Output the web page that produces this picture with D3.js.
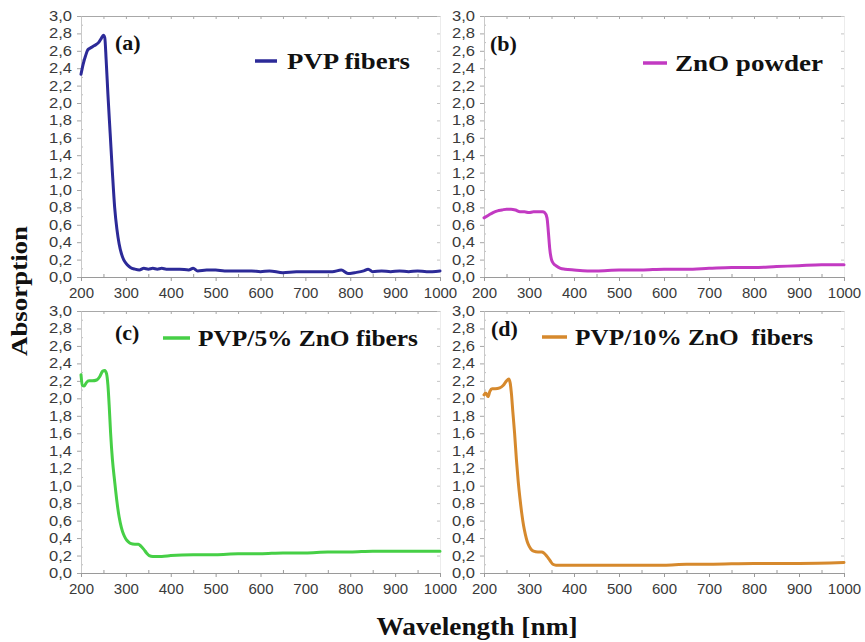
<!DOCTYPE html>
<html>
<head>
<meta charset="utf-8">
<script src="https://cdn.jsdelivr.net/npm/d3@7"></script>
<style>
  html, body { margin: 0; padding: 0; background: #fff; }
  svg { display: block; }
</style>
</head>
<body>
<svg id="chart" width="865" height="642"></svg>
<script>
// Shared axes
const wavelengthTicks = [200, 300, 400, 500, 600, 700, 800, 900, 1000];
const absorptionTicks = [0, 0.2, 0.4, 0.6, 0.8, 1.0, 1.2, 1.4, 1.6, 1.8, 2.0, 2.2, 2.4, 2.6, 2.8, 3.0];

// (a) PVP fibers
const pvpWavelength = [200, 205, 210, 215, 220, 230, 240, 245, 250, 253, 256, 260, 265, 270, 275, 280, 285, 290, 295, 300, 305, 310, 320, 330, 340, 350, 360, 370, 380, 390, 400, 420, 440, 450, 460, 480, 500, 520, 550, 580, 600, 620, 650, 680, 700, 730, 760, 780, 795, 810, 830, 840, 850, 870, 890, 910, 930, 950, 970, 1000];
const pvpAbsorption = [2.33, 2.45, 2.54, 2.61, 2.63, 2.66, 2.70, 2.74, 2.78, 2.75, 2.50, 2.10, 1.65, 1.20, 0.80, 0.55, 0.38, 0.27, 0.20, 0.16, 0.13, 0.11, 0.09, 0.08, 0.10, 0.09, 0.10, 0.09, 0.10, 0.09, 0.09, 0.09, 0.08, 0.10, 0.07, 0.08, 0.08, 0.07, 0.07, 0.07, 0.06, 0.07, 0.05, 0.06, 0.06, 0.06, 0.06, 0.08, 0.04, 0.05, 0.07, 0.09, 0.06, 0.07, 0.06, 0.07, 0.06, 0.07, 0.06, 0.07];

// (b) ZnO powder
const znoWavelength = [200, 210, 220, 230, 240, 250, 260, 270, 280, 290, 300, 310, 320, 330, 335, 340, 343, 346, 350, 355, 360, 370, 380, 400, 430, 450, 500, 550, 600, 650, 700, 750, 800, 850, 900, 950, 1000];
const znoAbsorption = [0.68, 0.71, 0.74, 0.76, 0.77, 0.78, 0.78, 0.77, 0.75, 0.75, 0.74, 0.75, 0.75, 0.75, 0.74, 0.68, 0.52, 0.33, 0.20, 0.15, 0.13, 0.10, 0.09, 0.08, 0.07, 0.07, 0.08, 0.08, 0.09, 0.09, 0.10, 0.11, 0.11, 0.12, 0.13, 0.14, 0.14];

// (c) PVP/5% ZnO fibers
const zno5Wavelength = [200, 203, 207, 212, 218, 225, 235, 242, 248, 253, 257, 260, 263, 266, 270, 275, 280, 285, 290, 295, 300, 305, 310, 320, 328, 333, 340, 346, 352, 360, 380, 400, 450, 500, 550, 600, 650, 700, 750, 800, 850, 900, 950, 1000];
const zno5Absorption = [2.27, 2.15, 2.14, 2.18, 2.20, 2.20, 2.21, 2.25, 2.31, 2.32, 2.28, 2.15, 1.90, 1.60, 1.30, 1.05, 0.82, 0.64, 0.52, 0.44, 0.39, 0.36, 0.34, 0.33, 0.33, 0.31, 0.27, 0.23, 0.20, 0.19, 0.19, 0.20, 0.21, 0.21, 0.22, 0.22, 0.23, 0.23, 0.24, 0.24, 0.25, 0.25, 0.25, 0.25];

// (d) PVP/10% ZnO fibers
const zno10Wavelength = [200, 204, 209, 213, 218, 225, 235, 243, 250, 255, 258, 261, 264, 268, 272, 276, 280, 284, 288, 292, 296, 300, 305, 310, 320, 328, 333, 340, 347, 353, 360, 400, 500, 600, 650, 700, 800, 900, 1000];
const zno10Absorption = [2.04, 2.06, 2.02, 2.08, 2.11, 2.11, 2.12, 2.15, 2.20, 2.22, 2.18, 2.05, 1.85, 1.60, 1.30, 1.05, 0.85, 0.68, 0.54, 0.44, 0.36, 0.31, 0.27, 0.25, 0.24, 0.24, 0.23, 0.19, 0.14, 0.10, 0.09, 0.09, 0.09, 0.09, 0.10, 0.10, 0.11, 0.11, 0.12];

const panels = [
  { tag: "(a)", name: "PVP fibers", wl: pvpWavelength, ab: pvpAbsorption, color: "#2c2a98",
    box: { left: 81, right: 440, top: 16, bottom: 277 },
    tagPos: [115, 50], keyLine: [255, 277, 61], keyText: [287, 69, 123] },
  { tag: "(b)", name: "ZnO powder", wl: znoWavelength, ab: znoAbsorption, color: "#c23ac2",
    box: { left: 484, right: 844, top: 16, bottom: 277 },
    tagPos: [490, 51], keyLine: [643, 667, 63], keyText: [675, 71, 148] },
  { tag: "(c)", name: "PVP/5% ZnO fibers", wl: zno5Wavelength, ab: zno5Absorption, color: "#46cf46",
    box: { left: 81, right: 440, top: 311, bottom: 573 },
    tagPos: [115, 340], keyLine: [163, 190, 338], keyText: [198, 346, 220] },
  { tag: "(d)", name: "PVP/10% ZnO  fibers", wl: zno10Wavelength, ab: zno10Absorption, color: "#d6892d",
    box: { left: 484, right: 844, top: 311, bottom: 573 },
    tagPos: [491, 336], keyLine: [542, 567, 337], keyText: [575, 345, 238] }
];

const svg = d3.select("#chart");
const fmtY = v => d3.format(".1f")(v).replace(".", ",");
const serif = "'Liberation Serif', 'Times New Roman', serif";
const sans = "'Liberation Sans', Arial, sans-serif";

panels.forEach(p => {
  const b = p.box;
  const x = d3.scaleLinear().domain([200, 1000]).range([b.left, b.right]);
  const y = d3.scaleLinear().domain([0, 3]).range([b.bottom, b.top]);
  const g = svg.append("g");

  // minor ticks (inward) on the bottom and top frame
  const minorX = d3.range(250, 1000, 100);
  g.append("g").attr("transform", `translate(0,${b.bottom})`)
    .call(d3.axisTop(x).tickValues(minorX).tickSize(3).tickFormat(""))
    .call(s => s.select(".domain").remove())
    .selectAll("line").attr("stroke", "#9a9a9a");
  g.append("g").attr("transform", `translate(0,${b.top})`)
    .call(d3.axisBottom(x).tickValues(wavelengthTicks.concat(minorX)).tickSize(3).tickFormat(""))
    .call(s => s.select(".domain").attr("stroke", "#a8a8a8"))
    .selectAll("line").attr("stroke", "#a8a8a8");

  // right frame: faint inward ticks
  g.append("g").attr("transform", `translate(${b.right},0)`)
    .call(d3.axisLeft(y).tickValues(absorptionTicks).tickSize(3).tickFormat(""))
    .call(s => s.select(".domain").attr("stroke", "#ececec"))
    .selectAll("line").attr("stroke", "#c4c4c4");

  // left axis with minor inward ticks
  g.append("g").attr("transform", `translate(${b.left},0)`)
    .call(d3.axisRight(y).tickValues(d3.range(0.1, 3, 0.2)).tickSize(2).tickFormat(""))
    .call(s => s.select(".domain").remove())
    .selectAll("line").attr("stroke", "#bdbdbd");
  const ya = g.append("g").attr("transform", `translate(${b.left},0)`)
    .call(d3.axisLeft(y).tickValues(absorptionTicks).tickSize(4).tickSizeOuter(0).tickPadding(5).tickFormat(fmtY));
  ya.select(".domain").attr("stroke", "#c9c9c9");
  ya.selectAll("line").attr("stroke", "#a6a6a6");
  ya.selectAll("text")
    .attr("font-family", sans).attr("font-size", 14).attr("fill", "#3a3a3a")
    .attr("textLength", 23).attr("lengthAdjust", "spacingAndGlyphs");

  // bottom axis
  const xa = g.append("g").attr("transform", `translate(0,${b.bottom})`)
    .call(d3.axisBottom(x).tickValues(wavelengthTicks).tickSize(4).tickSizeOuter(0).tickPadding(6).tickFormat(d3.format("d")));
  xa.select(".domain").attr("stroke", "#9a9a9a").attr("stroke-width", 1.2);
  xa.selectAll("line").attr("stroke", "#9a9a9a");
  xa.selectAll("text").attr("font-family", sans).attr("font-size", 15).attr("fill", "#3a3a3a");

  // spectrum
  const pts = p.wl.map((w, i) => [w, p.ab[i]]);
  g.append("path").datum(pts)
    .attr("fill", "none").attr("stroke", p.color).attr("stroke-width", 3)
    .attr("stroke-linejoin", "round").attr("stroke-linecap", "round")
    .attr("d", d3.line().x(d => x(d[0])).y(d => y(d[1])).curve(d3.curveMonotoneX));

  // panel tag
  g.append("text").attr("x", p.tagPos[0]).attr("y", p.tagPos[1])
    .attr("font-family", serif).attr("font-weight", "bold").attr("font-size", 22).attr("fill", "#111")
    .text(p.tag);

  // legend key
  g.append("line")
    .attr("x1", p.keyLine[0]).attr("x2", p.keyLine[1]).attr("y1", p.keyLine[2]).attr("y2", p.keyLine[2])
    .attr("stroke", p.color).attr("stroke-width", 3.5);
  g.append("text").attr("x", p.keyText[0]).attr("y", p.keyText[1])
    .attr("font-family", serif).attr("font-weight", "bold").attr("font-size", 24).attr("fill", "#111")
    .attr("textLength", p.keyText[2]).attr("lengthAdjust", "spacingAndGlyphs")
    .attr("xml:space", "preserve").style("white-space", "pre")
    .text(p.name);
});

// shared axis titles
svg.append("text")
  .attr("transform", "translate(27,291) rotate(-90)")
  .attr("text-anchor", "middle")
  .attr("font-family", serif).attr("font-weight", "bold").attr("font-size", 24).attr("fill", "#111")
  .attr("textLength", 130).attr("lengthAdjust", "spacingAndGlyphs")
  .text("Absorption");

svg.append("text")
  .attr("x", 477).attr("y", 635)
  .attr("text-anchor", "middle")
  .attr("font-family", serif).attr("font-weight", "bold").attr("font-size", 25).attr("fill", "#111")
  .attr("textLength", 201).attr("lengthAdjust", "spacingAndGlyphs")
  .text("Wavelength [nm]");
</script>
</body>
</html>
